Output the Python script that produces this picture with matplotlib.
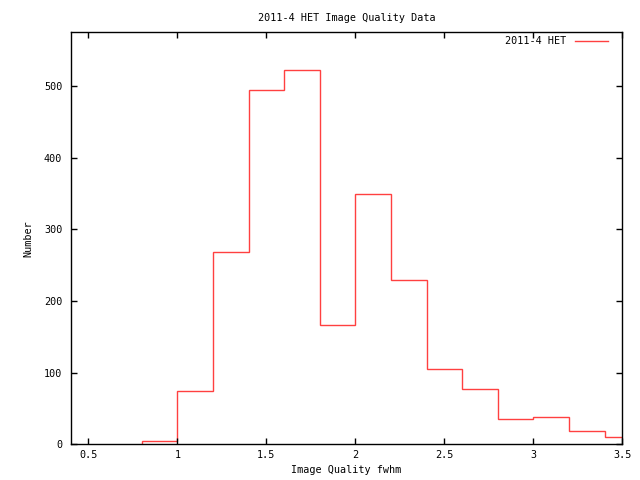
import matplotlib
matplotlib.use("Agg")
import matplotlib.pyplot as plt
import numpy as np

edges = [0.8, 1.0, 1.2, 1.4, 1.6, 1.8, 2.0, 2.2, 2.4, 2.6, 2.8, 3.0, 3.2, 3.4, 3.6]
counts = [5, 74, 268, 494, 523, 166, 350, 229, 105, 77, 35, 38, 18, 10]
xticks = [0.5, 1, 1.5, 2, 2.5, 3, 3.5]
xticklabels = ["0.5", "1", "1.5", "2", "2.5", "3", "3.5"]
yticks = [0, 100, 200, 300, 400, 500]

plt.rcParams['font.family'] = ['DejaVu Sans Mono']
fig = plt.figure(figsize=(6.4, 4.8), dpi=100)
ax = fig.add_axes([70.7/640, 1-444.3/480, (622.3-70.7)/640, (444.3-32.3)/480])

ax.stairs(counts, edges, baseline=0, color='#ff4040', linewidth=1.0, label='2011-4 HET')
ax.set_xlim(0.4, 3.5)
ax.set_ylim(0, 575)
ax.set_xticks(xticks)
ax.set_xticklabels(xticklabels)
ax.set_yticks(yticks)
ax.tick_params(direction='in', length=4, width=1, top=True, right=True, labelsize=7.3, colors='black')
ax.tick_params(axis='x', pad=4)
ax.tick_params(axis='y', pad=6)
for s in ax.spines.values():
    s.set_linewidth(1.0)
ax.set_title('2011-4 HET Image Quality Data', fontsize=7.3, pad=8)
ax.set_xlabel('Image Quality fwhm', fontsize=7.3, labelpad=4)
ax.set_ylabel('Number', fontsize=7.3, labelpad=8)
ax.legend(loc='upper right', frameon=False, markerfirst=False, fontsize=7.3,
          handlelength=3.3, borderaxespad=0.0, handletextpad=0.8,
          bbox_to_anchor=(0.982, 1.0))
fig.savefig('out.png', dpi=100)
